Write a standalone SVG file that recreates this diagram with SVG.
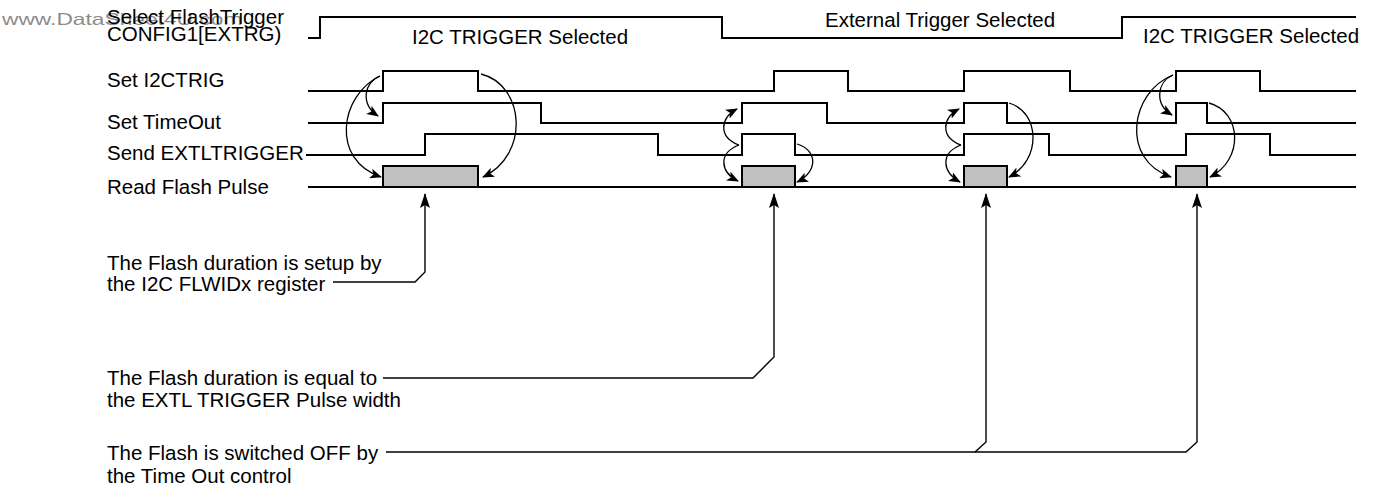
<svg xmlns="http://www.w3.org/2000/svg" width="1373" height="489" viewBox="0 0 1373 489">
<style>
text{font-family:"Liberation Sans",Arial,sans-serif;font-size:20.5px;fill:#000}
.wm{fill:#8c8c8c;font-size:16.5px}
.wave{fill:none;stroke:#000;stroke-width:2;stroke-linejoin:miter}
.pulse{fill:#c0c0c0;stroke:#000;stroke-width:2}
.cur{fill:none;stroke:#000;stroke-width:1.3;marker-end:url(#ah)}
.ann{fill:none;stroke:#000;stroke-width:1.4}
.annA{marker-end:url(#ah2)}
</style>
<defs>
<marker id="ah" markerUnits="userSpaceOnUse" markerWidth="12" markerHeight="10" viewBox="0 0 12 10" refX="11" refY="5" orient="auto">
<path d="M0,0 L12,5 L0,10 L3,5 Z" fill="#000"/>
</marker>
<marker id="ah2" markerUnits="userSpaceOnUse" markerWidth="15" markerHeight="10" viewBox="0 0 15 10" refX="14" refY="5" orient="auto">
<path d="M0,0 L15,5 L0,10 L3,5 Z" fill="#000"/>
</marker>
</defs>
<text class="wm" transform="translate(2,25) scale(1.38,1)">www.DataSheet4U.com</text>
<g id="sig-select">
<text x="107" y="24">Select FlashTrigger</text>
<text x="107" y="41">CONFIG1[EXTRG)</text>
<path class="wave" d="M308,38 H320 V17 H722 V38 H1122 V17 H1356"/>
<text x="412" y="44">I2C TRIGGER Selected</text>
<text x="825" y="27">External Trigger Selected</text>
<text x="1143" y="43">I2C TRIGGER Selected</text>
</g>
<g id="sig-i2ctrig">
<text x="107" y="87">Set I2CTRIG</text>
<path class="wave" d="M308,91 H383 V71 H478 V91 H774 V71 H848 V91 H964 V71 H1070 V91 H1176 V71 H1260 V91 H1356"/>
</g>
<g id="sig-timeout">
<text x="107" y="129">Set TimeOut</text>
<path class="wave" d="M308,123 H383 V103 H541 V123 H742 V103 H827 V123 H964 V103 H1007 V123 H1176 V103 H1207 V123 H1356"/>
</g>
<g id="sig-extl">
<text x="107" y="160">Send EXTLTRIGGER</text>
<path class="wave" d="M306,155 H425 V134 H658 V155 H742 V134 H795 V155 H964 V134 H1049 V155 H1186 V134 H1270 V155 H1356"/>
</g>
<g id="sig-flash">
<text x="107" y="194">Read Flash Pulse</text>
<path class="wave" d="M308,187 H1356"/>
<rect class="pulse" x="383" y="166" width="95" height="21"/>
<rect class="pulse" x="742" y="166" width="53" height="21"/>
<rect class="pulse" x="964" y="166" width="43" height="21"/>
<rect class="pulse" x="1176" y="166" width="31" height="21"/>
</g>
<g id="connectors">
<path class="cur" d="M380,76 C364,82 360,104 378,116"/>
<path class="cur" d="M380,76 C340,95 330,160 381,177"/>
<path class="cur" d="M481,74 C525,85 530,155 483,177"/>
<path class="cur" d="M739,145 C718,137 720,118 737,109"/>
<path class="cur" d="M739,145 C718,153 720,172 738,181"/>
<path class="cur" d="M797,144 C818,150 818,172 797,182"/>
<path class="cur" d="M961,145 C940,137 942,118 959,109"/>
<path class="cur" d="M961,145 C940,153 942,172 960,182"/>
<path class="cur" d="M1009,103 C1040,112 1042,160 1009,177"/>
<path class="cur" d="M1173,75 C1157,82 1154,104 1172,115"/>
<path class="cur" d="M1173,75 C1130,92 1120,160 1171,177"/>
<path class="cur" d="M1209,103 C1242,112 1244,160 1210,177"/>
<path class="ann annA" d="M333,282 H415 L425,272 V194"/>
<path class="ann annA" d="M383,378 H753 L774,357 V194"/>
<path class="ann annA" d="M386,452 H975 L986,442 V194"/>
<path class="ann annA" d="M975,452 H1186 L1197,442 V194"/>
</g>
<g id="note1">
<text x="107" y="270">The Flash duration is setup by</text>
<text x="107" y="291">the I2C FLWIDx register</text>
</g>
<g id="note2">
<text x="107" y="385">The Flash duration is equal to</text>
<text x="107" y="407">the EXTL TRIGGER Pulse width</text>
</g>
<g id="note3">
<text x="107" y="460">The Flash is switched OFF by</text>
<text x="107" y="483">the Time Out control</text>
</g>
</svg>
